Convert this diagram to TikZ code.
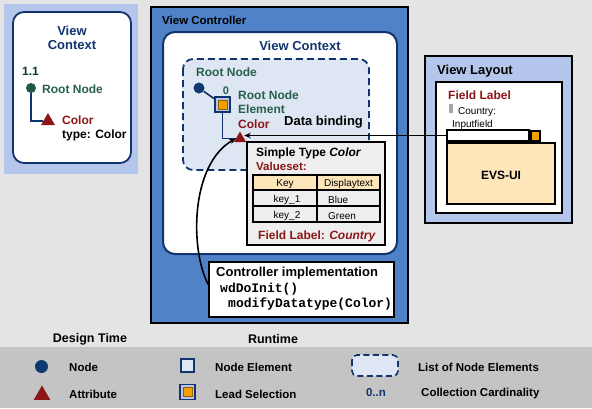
\documentclass[tikz,border=0pt]{standalone}
\usepackage{fontspec}
\setmainfont{Liberation Sans}
\setmonofont{Liberation Mono}
\usetikzlibrary{shapes.geometric,arrows.meta}
\definecolor{bgc}{RGB}{228,228,228}
\definecolor{legc}{RGB}{196,196,196}
\definecolor{vcblue}{RGB}{80,130,200}
\definecolor{dblue}{RGB}{18,52,110}
\definecolor{lblue}{RGB}{180,198,236}
\definecolor{listfill}{RGB}{222,230,243}
\definecolor{tgreen}{RGB}{38,96,76}
\definecolor{dgreen}{RGB}{10,62,24}
\definecolor{dred}{RGB}{140,22,22}
\definecolor{orng}{RGB}{240,160,0}
\definecolor{lorng}{RGB}{253,230,186}
\definecolor{nodeblue}{RGB}{12,58,110}
\definecolor{boxgray}{RGB}{238,238,238}
\begin{document}
\begin{tikzpicture}[x=1pt,y=-1pt,
  txb/.style={inner sep=0pt, anchor=west, font=\bfseries\fontsize{12}{14}\selectfont},
  txbig/.style={inner sep=0pt, font=\bfseries\fontsize{13}{15}\selectfont},
  txsm/.style={inner sep=0pt, anchor=west, font=\fontsize{10}{12}\selectfont},
  txmono/.style={inner sep=0pt, anchor=west, font=\ttfamily\bfseries\fontsize{13}{15}\selectfont},
  nodedot/.style={circle, fill=nodeblue, inner sep=0pt, minimum size=#1},
  attrtri/.style={regular polygon, regular polygon sides=3, fill=dred, inner sep=0pt, minimum size=#1},
  nodeelem/.style={draw=dblue, line width=2pt, fill=listfill, inner sep=0pt, minimum size=13pt},
  leadsel/.style={draw=dblue, line width=1.5pt, fill=lblue, inner sep=0pt, minimum size=#1,
    path picture={\fill[orng, draw={rgb,255:red,150;green,90;blue,0}, line width=0.6pt]
      ([shift={(3.2pt,3.2pt)}]path picture bounding box.south west) rectangle
      ([shift={(-3.2pt,-3.2pt)}]path picture bounding box.north east);}},
  listbox/.style={draw=dblue, line width=1.8pt, dash pattern=on 7pt off 4pt, fill=listfill},
  blk/.style={draw=black, line width=1.5pt},
  conn/.style={draw=dblue, line width=1.6pt},
  arr/.style={draw=black, line width=1.6pt, -{Stealth[length=6.5pt,width=5.5pt]}}
]
% background
\fill[bgc] (0,0) rectangle (592,408);
\fill[legc] (0,347) rectangle (592,408);

% ---------- Design time view context ----------
\fill[lblue] (4,4) rectangle (138,174);
\draw[dblue, line width=1.8pt, fill=white, rounded corners=11pt] (13,12) rectangle (131,163);
\node[txbig, align=center, text=dblue] (dvc) at (72,38) {View\\[-1pt]Context};
\node[txb, text=dgreen] (d11) at (22,71) {1.1};
\node[nodedot=10pt, fill={rgb,255:red,30;green,90;blue,70}] (dnode) at (31,88) {};
\node[txb, text=tgreen] (drn) at (42,89) {Root Node};
\node[attrtri=16pt] (dattr) at (48,121) {};
\draw[conn] (dnode) |- (dattr.west);
\node[txb, text=dred] (dcol) at (62,120) {Color};
\node[txb] (dtype) at (62,135) {type: Color};

% ---------- View Controller ----------
\draw[blk, fill=vcblue] (151,7) rectangle (408,323);
\node[inner sep=0pt, anchor=west, font=\bfseries\fontsize{11.5}{13}\selectfont] (vct) at (162,20) {View Controller};
\draw[dblue, line width=2pt, fill=white, rounded corners=12pt] (163,32) rectangle (397,254);
\node[txbig, text=dblue] (rvc) at (300,46) {View Context};
\draw[listbox, rounded corners=10pt] (183,59) rectangle (369,170);
\node[txb, text=tgreen] (rrn) at (196,72) {Root Node};
\node[nodedot=11pt] (rn) at (199,88) {};
\node[leadsel=15pt] (le) at (222.5,104.5) {};
\node[inner sep=0pt, font=\bfseries\fontsize{11}{13}\selectfont, text=tgreen] (card0) at (226,91) {0};
\node[txb, text=tgreen] (rne1) at (238,95) {Root Node};
\node[txb, text=tgreen] (rne2) at (238,109) {Element};
\node[txb, text=dred] (rcol) at (238,124) {Color};
\node[attrtri=14pt] (attr) at (240,138.5) {};
\draw[conn] (rn) -- (le);
\draw[conn] (le) |- (attr.west);
\node[txbig, anchor=west] (db) at (284,122) {Data binding};

% Simple type box
\node[blk, fill=boxgray, minimum width=138pt, minimum height=103pt, inner sep=0pt] (st) at (316,193.5) {};
\node[txb] (stt) at (256,153) {Simple Type \textit{Color}};
\node[inner sep=0pt, anchor=west, text=dred, font=\bfseries\fontsize{11.5}{13}\selectfont] (vs) at (256,166) {Valueset:};
\fill[lorng] (253,175) rectangle (380,190);
\fill[boxgray] (253,190) rectangle (380,222);
\draw[blk] (253,175) rectangle (380,222);
\draw[blk] (253,190) -- (380,190);
\draw[blk] (253,206) -- (380,206);
\draw[blk] (317,175) -- (317,222);
\node[txsm, anchor=center] (tk) at (285,184) {Key};
\node[txsm, anchor=center] (td) at (348.5,184) {Displaytext};
\node[txsm, anchor=center] (tk1) at (287,200) {key\_1};
\node[txsm] (tb) at (328,200) {Blue};
\node[txsm, anchor=center] (tk2) at (287,216) {key\_2};
\node[txsm] (tg) at (328,216) {Green};
\node[txb, anchor=center, text=dred] (fl) at (317,236) {Field Label: \textit{Country}};

% Controller implementation
\node[blk, fill=white, minimum width=185pt, minimum height=55pt, inner sep=0pt] (ctrl) at (301.5,289.5) {};
\node[txbig, anchor=west] (ci) at (216,273) {Controller implementation};
\node[txmono] (wd) at (220,289) {wdDoInit()};
\node[txmono] (md) at (228,304) {modifyDatatype(Color)};

% ---------- View Layout ----------
\draw[blk, fill=lblue] (425,56) rectangle (572,223);
\node[txbig, anchor=west] (vl) at (437,71) {View Layout};
\draw[black, line width=1.2pt, fill=white] (436,82) rectangle (562,213);
\node[txb, text=dred] (lfl) at (448,95) {Field Label};
\fill[gray!70] (449,104) rectangle (453,113);
\node[txsm] (lc) at (458,112) {Country:};
\node[txsm] (li) at (452,125) {Inputfield};
\node[draw=black, line width=1.2pt, fill=white, minimum width=82pt, minimum height=11pt, inner sep=0pt] (inp) at (488,135.5) {};
\node[draw=black, line width=1.2pt, fill=orng, minimum width=9pt, minimum height=10pt, inner sep=0pt] (isq) at (535.5,136) {};
\node[blk, fill=lorng, minimum width=108pt, minimum height=61pt, inner sep=0pt] (evs) at (501,173.5) {};
\node[txb, anchor=center] (evst) at (501,175) {EVS-UI};

% connectors
\draw[arr] (inp.west) -- (inp.west -| attr.east);
\draw[arr] ([yshift=5pt]ctrl.west) .. controls (190,250) and (190,165) .. (attr.west);

% ---------- Legend ----------
\node[inner sep=0pt, font=\bfseries\fontsize{12.5}{14}\selectfont] (dt) at (90,339) {Design Time};
\node[inner sep=0pt, font=\bfseries\fontsize{12.5}{14}\selectfont] (rt) at (273,339) {Runtime};
\node[nodedot=13pt] (lgn) at (41.5,366.5) {};
\node[inner sep=0pt, anchor=west, font=\bfseries\fontsize{11.5}{13}\selectfont] (lgnt) at (69,367) {Node};
\node[attrtri=19pt] (lga) at (42,395) {};
\node[inner sep=0pt, anchor=west, font=\bfseries\fontsize{11.5}{13}\selectfont] (lgat) at (69,394) {Attribute};
\node[nodeelem] (lge) at (187.5,365.5) {};
\node[inner sep=0pt, anchor=west, font=\bfseries\fontsize{11.5}{13}\selectfont] (lget) at (215,367) {Node Element};
\node[leadsel=15pt] (lgl) at (187.5,392) {};
\node[inner sep=0pt, anchor=west, font=\bfseries\fontsize{11.5}{13}\selectfont] (lglt) at (215,394) {Lead Selection};
\draw[listbox, line width=1.6pt, dash pattern=on 6pt off 3.5pt, rounded corners=5pt] (352,355) rectangle (398,376);
\node[inner sep=0pt, anchor=west, font=\bfseries\fontsize{11.5}{13}\selectfont] (lglst) at (418,367) {List of Node Elements};
\node[inner sep=0pt, text=dblue, font=\bfseries\fontsize{11.5}{13}\selectfont] (lgc) at (376,393) {0..n};
\node[inner sep=0pt, anchor=west, font=\bfseries\fontsize{11.5}{13}\selectfont] (lgct) at (421,394) {Collection Cardinality};
\end{tikzpicture}
\end{document}
